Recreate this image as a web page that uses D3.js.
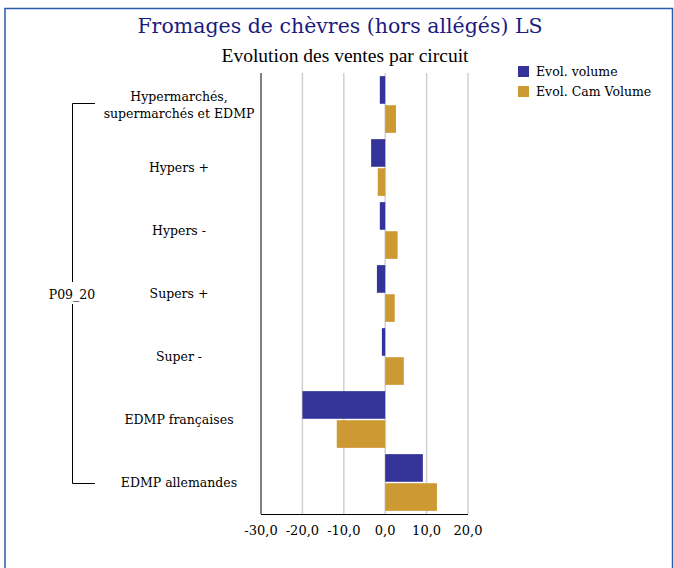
<!DOCTYPE html>
<html>
<head>
<meta charset="utf-8">
<script src="https://cdn.jsdelivr.net/npm/d3@7"></script>
<style>
  body { margin: 0; background: #fff; }
  text { font-family: "DejaVu Serif", serif; }
</style>
</head>
<body>
<div class="chart"></div>
<script>
const categories = [
  "Hypermarchés,|supermarchés et EDMP",
  "Hypers +",
  "Hypers -",
  "Supers +",
  "Super -",
  "EDMP françaises",
  "EDMP allemandes"
];
const evolVolume = [-1.3, -3.4, -1.3, -2.0, -0.8, -20.0, 9.1];
const evolCamVolume = [2.6, -1.8, 3.0, 2.3, 4.5, -11.7, 12.5];
const seriesNames = ["Evol. volume", "Evol. Cam Volume"];
const seriesColors = ["#333399", "#cc9933"];
const xTicks = [-30, -20, -10, 0, 10, 20];
const groupLabel = "P09_20";

const W = 674, H = 568;
const margin = { top: 73, left: 261, right: 206, bottom: 54 };

const svg = d3.select(".chart").append("svg")
  .attr("width", W)
  .attr("height", H);

// frame
svg.append("path")
  .attr("d", "M5,600 V8.5 H672.5 V600")
  .attr("fill", "none")
  .attr("stroke", "#2a5caa")
  .attr("stroke-width", 1.5);

svg.append("text")
  .attr("x", 340).attr("y", 33)
  .attr("text-anchor", "middle")
  .attr("fill", "#1c1c80")
  .style("font-size", "20.5px")
  .text("Fromages de chèvres (hors allégés) LS");

svg.append("text")
  .attr("x", 345).attr("y", 62)
  .attr("text-anchor", "middle")
  .attr("fill", "#000")
  .style("font-family", "'Liberation Serif', serif")
  .style("font-size", "19.5px")
  .text("Evolution des ventes par circuit");

const x = d3.scaleLinear()
  .domain([-30, 20])
  .range([margin.left, W - margin.right]);

const y = d3.scaleBand()
  .domain(d3.range(categories.length))
  .range([margin.top, H - margin.bottom])
  .paddingInner(0.1)
  .paddingOuter(0.05);

const ySub = d3.scaleBand()
  .domain([0, 1])
  .range([0, y.bandwidth()])
  .paddingInner(0.05);

// gridlines
svg.append("g")
  .selectAll("line")
  .data(xTicks.slice(1))
  .join("line")
  .attr("x1", d => x(d)).attr("x2", d => x(d))
  .attr("y1", margin.top).attr("y2", H - margin.bottom)
  .attr("stroke", "#d0d0d0")
  .attr("stroke-width", 1.5);

// bars
const series = [evolVolume, evolCamVolume];
series.forEach((vals, s) => {
  svg.append("g")
    .attr("fill", seriesColors[s])
    .selectAll("rect")
    .data(vals)
    .join("rect")
    .attr("x", d => x(Math.min(0, d)))
    .attr("width", d => Math.abs(x(d) - x(0)))
    .attr("y", (d, i) => y(i) + ySub(s))
    .attr("height", ySub.bandwidth());
});

// axes lines
svg.append("line")
  .attr("x1", x(-30)).attr("x2", x(-30))
  .attr("y1", margin.top).attr("y2", H - margin.bottom)
  .attr("stroke", "#000");
svg.append("line")
  .attr("x1", x(-30)).attr("x2", x(20))
  .attr("y1", H - margin.bottom + 0.5).attr("y2", H - margin.bottom + 0.5)
  .attr("stroke", "#000");

const fmt = d => d3.format(".1f")(d).replace(".", ",").replace("−", "-");
svg.append("g")
  .selectAll("text")
  .data(xTicks)
  .join("text")
  .attr("x", d => x(d))
  .attr("y", H - margin.bottom + 21)
  .attr("text-anchor", "middle")
  .style("font-size", "13px")
  .text(fmt);

// category labels
const catG = svg.append("g");
categories.forEach((c, i) => {
  const lines = c.split("|");
  const cy = y(i) + y.bandwidth() / 2;
  lines.forEach((ln, j) => {
    catG.append("text")
      .attr("x", 179)
      .attr("y", cy + 4.5 + (j - (lines.length - 1) / 2) * 17)
      .attr("text-anchor", "middle")
      .style("font-size", "12.5px")
      .text(ln);
  });
});

// group bracket
const yTop = Math.round(y(0) + y.bandwidth() / 2) - 0.5;
const yBot = Math.round(y(categories.length - 1) + y.bandwidth() / 2) + 0.5;
const yMid = 294;
svg.append("path")
  .attr("d", `M95,${yTop} H72.5 V${yMid - 12} M72.5,${yMid + 10} V${yBot} H95`)
  .attr("fill", "none")
  .attr("stroke", "#000");
svg.append("text")
  .attr("x", 72).attr("y", yMid + 4.5)
  .attr("text-anchor", "middle")
  .style("font-size", "12.5px")
  .text(groupLabel);

// legend
const leg = svg.append("g").attr("transform", "translate(518,66)");
seriesNames.forEach((n, i) => {
  leg.append("rect")
    .attr("x", 0).attr("y", i * 20)
    .attr("width", 11).attr("height", 11)
    .attr("fill", seriesColors[i]);
  leg.append("text")
    .attr("x", 18).attr("y", i * 20 + 10)
    .style("font-size", "12.5px")
    .text(n);
});
</script>
</body>
</html>
